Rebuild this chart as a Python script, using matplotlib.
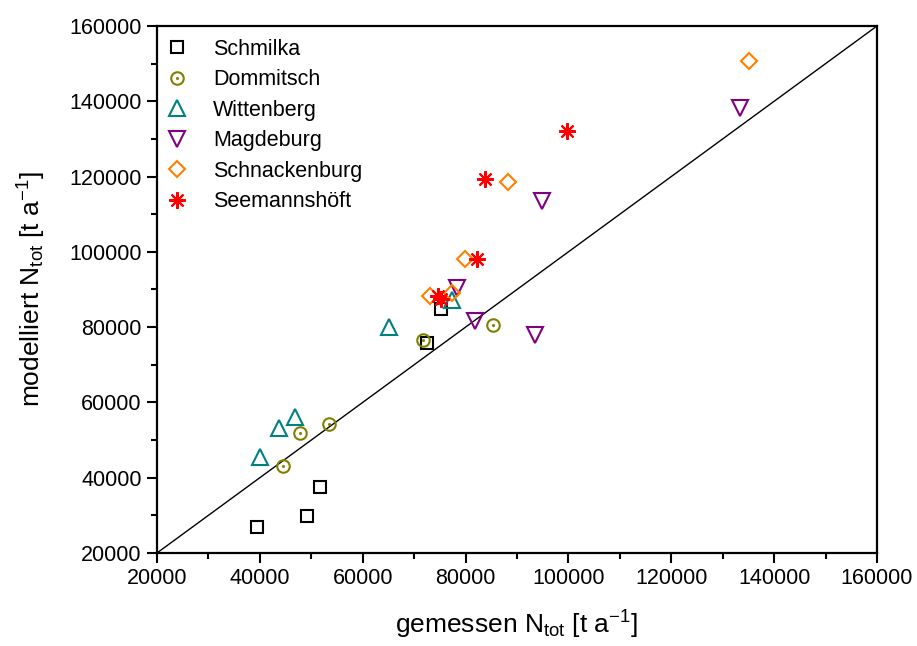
import matplotlib
matplotlib.use("Agg")
import matplotlib.pyplot as plt
from matplotlib.ticker import MultipleLocator

plt.rcParams['font.family'] = ['Liberation Sans', 'DejaVu Sans']
plt.rcParams['mathtext.fontset'] = 'custom'
plt.rcParams['mathtext.rm'] = 'Liberation Sans'
plt.rcParams['mathtext.it'] = 'Liberation Sans'

stations = ["Schmilka", "Dommitsch", "Wittenberg", "Magdeburg", "Schnackenburg", "Seemannshöft"]

schmilka_x = [39400, 49200, 51700, 72500, 75200]
schmilka_y = [27000, 29800, 37500, 75800, 84800]

dommitsch_x = [44500, 47800, 53400, 71700, 85300]
dommitsch_y = [43100, 51900, 54300, 76600, 80600]

wittenberg_x = [40000, 43700, 46800, 65100, 77400]
wittenberg_y = [45500, 53200, 56000, 80000, 87200]

magdeburg_x = [78300, 81800, 93500, 94900, 133400]
magdeburg_y = [90400, 81600, 77900, 113500, 138200]

schnack_x = [73100, 77400, 79900, 88200, 135100]
schnack_y = [88300, 89100, 98100, 118600, 150700]

seemann_x = [74700, 75300, 82200, 83800, 99700]
seemann_y = [88200, 87600, 98100, 119400, 132100]

fig = plt.figure(figsize=(9.17, 6.46), dpi=100)
ax = fig.add_axes([0.1712, 0.1440, 0.7852, 0.8158])

ax.plot([20000, 160000], [20000, 160000], color='black', lw=1.0, zorder=1)

ms = 9
mew = 1.5
h1, = ax.plot(schmilka_x, schmilka_y, ls='none', marker='s', ms=8, mfc='none', mec='black', mew=mew, zorder=3)
h2a, = ax.plot(dommitsch_x, dommitsch_y, ls='none', marker='o', ms=ms, mfc='none', mec='#808000', mew=mew, zorder=3)
h2b, = ax.plot(dommitsch_x, dommitsch_y, ls='none', marker='o', ms=2.2, mfc='#808000', mec='#808000', mew=0, zorder=3)
h3, = ax.plot(wittenberg_x, wittenberg_y, ls='none', marker='^', ms=11, mfc='none', mec='#008080', mew=mew, zorder=3)
h4, = ax.plot(magdeburg_x, magdeburg_y, ls='none', marker='v', ms=11, mfc='none', mec='#800080', mew=mew, zorder=3)
h5, = ax.plot(schnack_x, schnack_y, ls='none', marker='D', ms=8, mfc='none', mec='#FF8000', mew=mew, zorder=3)
h6, = ax.plot(seemann_x, seemann_y, ls='none', marker=(8, 2, 0), ms=12, mfc='none', mec='#FF0000', mew=mew, zorder=4)

ax.legend([h1, (h2a, h2b), h3, h4, h5, h6], stations, loc='upper left', frameon=False,
          fontsize=15.5, handletextpad=1.35, labelspacing=0.44, borderaxespad=0.2,
          handlelength=0.65, bbox_to_anchor=(0.0, 1.0))

ax.set_xlim(20000, 160000)
ax.set_ylim(20000, 160000)
ax.xaxis.set_major_locator(MultipleLocator(20000))
ax.yaxis.set_major_locator(MultipleLocator(20000))
ax.xaxis.set_minor_locator(MultipleLocator(10000))
ax.yaxis.set_minor_locator(MultipleLocator(10000))
ax.tick_params(which='major', direction='out', length=7, width=1.5, labelsize=15.5, pad=4)
ax.tick_params(which='minor', direction='out', length=4, width=1.5)
for s in ax.spines.values():
    s.set_linewidth(1.6)

ax.set_xlabel('gemessen N$_{\\mathrm{tot}}$ [t a$^{\\mathrm{-1}}$]', fontsize=19, labelpad=14)
ax.set_ylabel('modelliert N$_{\\mathrm{tot}}$ [t a$^{\\mathrm{-1}}$]', fontsize=19, labelpad=15)

fig.savefig('out.png', dpi=100)
